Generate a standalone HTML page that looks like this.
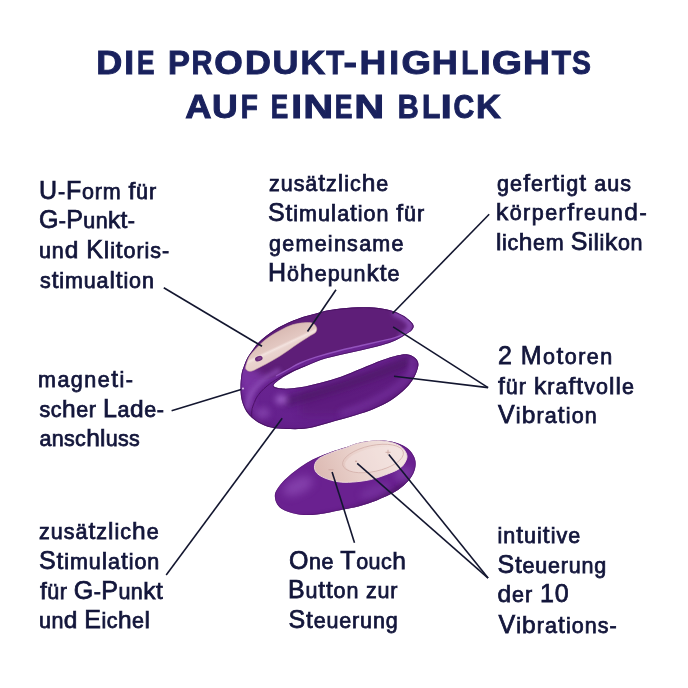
<!DOCTYPE html>
<html><head><meta charset="utf-8"><style>
html,body{margin:0;padding:0;background:#fff;width:688px;height:688px;overflow:hidden}
svg{display:block}
.b,.t{opacity:0.995}
.b text{font-family:"Liberation Sans",sans-serif;font-size:21.5px;fill:#12153a;stroke:#12153a;stroke-width:0.75px}
.t text{font-family:"Liberation Sans",sans-serif;font-weight:bold;font-size:34px;fill:#18205c;stroke:#18205c;stroke-width:1.0px}
</style></head><body>
<svg width="688" height="688" viewBox="0 0 688 688">
<rect width="688" height="688" fill="#fff"/>
<g class="t">
<text transform="translate(96.19,74.2) scale(1.060,1)">D</text>
<text transform="translate(124.13,74.2) scale(1.041,1)">I</text>
<text transform="translate(136.95,74.2) scale(0.771,1)">E</text>
<text transform="translate(168.10,74.2) scale(0.967,1)">P</text>
<text transform="translate(191.45,74.2) scale(0.857,1)">R</text>
<text transform="translate(214.19,74.2) scale(1.079,1)">O</text>
<text transform="translate(245.10,74.2) scale(1.055,1)">D</text>
<text transform="translate(272.44,74.2) scale(1.057,1)">U</text>
<text transform="translate(300.41,74.2) scale(1.006,1)">K</text>
<text transform="translate(326.37,74.2) scale(0.864,1)">T</text>
<text transform="translate(343.42,74.2) scale(1.193,1)">-</text>
<text transform="translate(359.53,74.2) scale(1.086,1)">H</text>
<text transform="translate(389.33,74.2) scale(1.041,1)">I</text>
<text transform="translate(401.54,74.2) scale(1.116,1)">G</text>
<text transform="translate(431.69,74.2) scale(1.061,1)">H</text>
<text transform="translate(461.24,74.2) scale(0.820,1)">L</text>
<text transform="translate(479.90,74.2) scale(1.143,1)">I</text>
<text transform="translate(492.02,74.2) scale(1.133,1)">G</text>
<text transform="translate(522.91,74.2) scale(1.096,1)">H</text>
<text transform="translate(551.75,74.2) scale(0.929,1)">T</text>
<text transform="translate(571.98,74.2) scale(0.835,1)">S</text>
<text transform="translate(185.19,117.6) scale(1.070,1)">A</text>
<text transform="translate(211.96,117.6) scale(1.047,1)">U</text>
<text transform="translate(240.73,117.6) scale(0.823,1)">F</text>
<text transform="translate(270.85,117.6) scale(0.771,1)">E</text>
<text transform="translate(291.30,117.6) scale(1.143,1)">I</text>
<text transform="translate(303.32,117.6) scale(1.221,1)">N</text>
<text transform="translate(334.82,117.6) scale(0.781,1)">E</text>
<text transform="translate(354.32,117.6) scale(1.221,1)">N</text>
<text transform="translate(397.86,117.6) scale(0.854,1)">B</text>
<text transform="translate(421.99,117.6) scale(0.883,1)">L</text>
<text transform="translate(440.65,117.6) scale(1.164,1)">I</text>
<text transform="translate(453.52,117.6) scale(0.846,1)">C</text>
<text transform="translate(476.00,117.6) scale(1.011,1)">K</text>
</g>
<defs>
<clipPath id="cb"><path d="M240.5,389.0 C240.4,384.4 240.9,378.3 241.5,374.5 C242.1,370.7 243.0,368.8 244.0,366.0 C245.0,363.2 246.0,360.5 247.3,358.0 C248.6,355.5 250.2,353.5 252.0,351.0 C253.8,348.5 255.7,345.5 258.0,343.0 C260.3,340.5 263.0,338.3 266.0,336.0 C269.0,333.7 272.3,331.2 276.0,329.0 C279.7,326.8 284.0,324.6 288.0,322.8 C292.0,321.0 295.5,319.5 300.0,318.0 C304.5,316.5 310.0,315.1 315.0,313.8 C320.0,312.5 323.8,311.0 330.0,310.0 C336.2,309.0 344.7,308.0 352.0,307.6 C359.3,307.2 367.5,307.1 374.0,307.6 C380.5,308.1 386.2,309.2 391.0,310.5 C395.8,311.8 399.6,313.7 403.0,315.6 C406.4,317.6 409.6,320.4 411.4,322.2 C413.2,324.0 413.6,325.1 413.6,326.5 C413.6,327.9 412.7,329.2 411.4,330.5 C410.1,331.8 408.3,332.8 405.6,334.5 C402.9,336.2 399.4,338.7 395.4,340.5 C391.4,342.3 387.4,343.6 381.7,345.2 C376.0,346.8 368.2,348.6 361.4,350.2 C354.6,351.8 347.8,353.1 341.0,354.7 C334.2,356.3 326.8,357.9 320.7,359.9 C314.6,361.9 308.9,364.8 304.3,366.7 C299.8,368.6 297.0,369.6 293.4,371.4 C289.8,373.2 285.8,375.2 282.5,377.6 C279.2,380.0 273.4,383.8 273.5,385.6 C273.6,387.4 278.5,388.3 283.0,388.6 C287.5,388.9 294.0,388.3 300.3,387.3 C306.6,386.3 313.9,384.6 320.7,382.8 C327.5,381.1 334.2,379.2 341.0,376.8 C347.8,374.4 354.6,371.2 361.4,368.5 C368.2,365.8 375.6,362.5 381.7,360.3 C387.8,358.1 393.6,356.3 398.0,355.3 C402.4,354.3 405.0,353.9 408.0,354.4 C411.0,354.9 414.1,356.7 415.8,358.5 C417.5,360.3 418.6,362.2 418.4,365.3 C418.1,368.4 416.4,373.1 414.3,377.0 C412.2,380.9 409.5,384.7 405.6,388.6 C401.7,392.5 396.3,396.8 391.0,400.2 C385.7,403.6 379.4,406.5 373.6,409.0 C367.8,411.5 362.6,413.0 356.2,415.0 C349.8,417.0 343.1,418.8 335.0,421.0 C326.9,423.2 315.9,427.0 307.7,428.3 C299.5,429.6 292.0,429.1 285.9,429.0 C279.8,428.9 275.9,428.7 271.3,427.6 C266.7,426.5 262.2,424.8 258.3,422.5 C254.4,420.2 250.8,417.2 248.1,413.8 C245.4,410.4 243.6,406.3 242.3,402.2 C241.0,398.1 240.6,393.6 240.5,389.0Z"/></clipPath>
<clipPath id="cr"><path d="M274.9,497.1 C274.7,494.9 274.9,493.4 276.1,491.0 C277.3,488.6 279.1,485.7 282.2,482.4 C285.2,479.1 290.3,474.6 294.4,471.4 C298.5,468.1 302.5,465.3 306.6,462.9 C310.7,460.5 314.8,458.6 318.9,456.8 C323.0,455.0 326.6,453.4 331.0,451.9 C335.4,450.4 340.4,449.1 345.0,447.6 C349.6,446.1 353.0,444.2 358.3,443.0 C363.6,441.8 370.9,440.8 376.6,440.6 C382.3,440.4 387.6,440.7 392.5,441.8 C397.4,442.9 402.5,445.1 406.0,447.3 C409.5,449.5 411.7,452.4 413.3,455.2 C414.9,457.9 415.7,460.8 415.7,463.8 C415.7,466.9 414.9,470.2 413.3,473.5 C411.7,476.8 409.1,480.2 406.0,483.3 C402.9,486.4 399.9,489.0 395.0,491.8 C390.1,494.6 382.7,497.9 376.6,500.4 C370.5,502.8 364.4,504.9 358.3,506.5 C352.2,508.1 346.6,508.9 340.0,510.2 C333.4,511.5 325.5,513.4 318.9,514.2 C312.3,515.0 306.2,515.4 300.5,514.8 C294.8,514.2 288.6,512.2 284.7,510.5 C280.8,508.8 278.9,506.6 277.3,504.4 C275.7,502.2 275.1,499.3 274.9,497.1Z"/></clipPath>
<clipPath id="cp"><path d="M245.8,369.0 C245.1,367.6 246.2,364.8 246.9,362.6 C247.6,360.4 248.4,358.0 250.0,355.6 C251.6,353.2 253.7,350.9 256.5,348.0 C259.3,345.1 263.1,341.4 267.0,338.5 C270.9,335.6 275.6,332.8 280.0,330.5 C284.4,328.2 288.7,325.9 293.1,324.6 C297.5,323.3 302.9,322.8 306.2,322.6 C309.5,322.4 311.4,322.5 313.1,323.4 C314.8,324.3 316.2,326.3 316.6,327.8 C317.0,329.3 316.7,330.9 315.7,332.2 C314.7,333.5 313.6,333.6 310.5,335.6 C307.4,337.6 302.5,340.6 297.4,344.0 C292.3,347.4 285.9,352.3 280.0,356.0 C274.1,359.7 267.0,363.5 262.2,366.0 C257.4,368.5 253.7,370.7 251.0,371.2 C248.3,371.7 246.5,370.4 245.8,369.0Z"/></clipPath>
<filter id="bl2" x="-50%" y="-50%" width="200%" height="200%"><feGaussianBlur stdDeviation="2"/></filter>
<filter id="bl3" x="-50%" y="-50%" width="200%" height="200%"><feGaussianBlur stdDeviation="3"/></filter>
<filter id="bl4" x="-50%" y="-50%" width="200%" height="200%"><feGaussianBlur stdDeviation="4"/></filter>
<filter id="bl1" x="-50%" y="-50%" width="200%" height="200%"><feGaussianBlur stdDeviation="0.7"/></filter>
<linearGradient id="gpad" gradientUnits="userSpaceOnUse" x1="280.4" y1="332.1" x2="288.9" y2="350.2">
<stop offset="0" stop-color="#dbbdb6"/><stop offset="0.55" stop-color="#e3c8c2"/><stop offset="0.66" stop-color="#f3e3df"/><stop offset="0.78" stop-color="#ead4cf"/><stop offset="1" stop-color="#e8d0cb"/></linearGradient>
<linearGradient id="grt" gradientUnits="userSpaceOnUse" x1="318" y1="478" x2="398" y2="446">
<stop offset="0" stop-color="#dcbab3"/><stop offset="0.5" stop-color="#ead2cc"/><stop offset="1" stop-color="#f3e3df"/></linearGradient>
<linearGradient id="gbody" gradientUnits="userSpaceOnUse" x1="0" y1="340" x2="0" y2="430">
<stop offset="0" stop-color="#6c2694"/><stop offset="1" stop-color="#64208c"/></linearGradient>
</defs>
<g id="device">
<path d="M240.5,389.0 C240.4,384.4 240.9,378.3 241.5,374.5 C242.1,370.7 243.0,368.8 244.0,366.0 C245.0,363.2 246.0,360.5 247.3,358.0 C248.6,355.5 250.2,353.5 252.0,351.0 C253.8,348.5 255.7,345.5 258.0,343.0 C260.3,340.5 263.0,338.3 266.0,336.0 C269.0,333.7 272.3,331.2 276.0,329.0 C279.7,326.8 284.0,324.6 288.0,322.8 C292.0,321.0 295.5,319.5 300.0,318.0 C304.5,316.5 310.0,315.1 315.0,313.8 C320.0,312.5 323.8,311.0 330.0,310.0 C336.2,309.0 344.7,308.0 352.0,307.6 C359.3,307.2 367.5,307.1 374.0,307.6 C380.5,308.1 386.2,309.2 391.0,310.5 C395.8,311.8 399.6,313.7 403.0,315.6 C406.4,317.6 409.6,320.4 411.4,322.2 C413.2,324.0 413.6,325.1 413.6,326.5 C413.6,327.9 412.7,329.2 411.4,330.5 C410.1,331.8 408.3,332.8 405.6,334.5 C402.9,336.2 399.4,338.7 395.4,340.5 C391.4,342.3 387.4,343.6 381.7,345.2 C376.0,346.8 368.2,348.6 361.4,350.2 C354.6,351.8 347.8,353.1 341.0,354.7 C334.2,356.3 326.8,357.9 320.7,359.9 C314.6,361.9 308.9,364.8 304.3,366.7 C299.8,368.6 297.0,369.6 293.4,371.4 C289.8,373.2 285.8,375.2 282.5,377.6 C279.2,380.0 273.4,383.8 273.5,385.6 C273.6,387.4 278.5,388.3 283.0,388.6 C287.5,388.9 294.0,388.3 300.3,387.3 C306.6,386.3 313.9,384.6 320.7,382.8 C327.5,381.1 334.2,379.2 341.0,376.8 C347.8,374.4 354.6,371.2 361.4,368.5 C368.2,365.8 375.6,362.5 381.7,360.3 C387.8,358.1 393.6,356.3 398.0,355.3 C402.4,354.3 405.0,353.9 408.0,354.4 C411.0,354.9 414.1,356.7 415.8,358.5 C417.5,360.3 418.6,362.2 418.4,365.3 C418.1,368.4 416.4,373.1 414.3,377.0 C412.2,380.9 409.5,384.7 405.6,388.6 C401.7,392.5 396.3,396.8 391.0,400.2 C385.7,403.6 379.4,406.5 373.6,409.0 C367.8,411.5 362.6,413.0 356.2,415.0 C349.8,417.0 343.1,418.8 335.0,421.0 C326.9,423.2 315.9,427.0 307.7,428.3 C299.5,429.6 292.0,429.1 285.9,429.0 C279.8,428.9 275.9,428.7 271.3,427.6 C266.7,426.5 262.2,424.8 258.3,422.5 C254.4,420.2 250.8,417.2 248.1,413.8 C245.4,410.4 243.6,406.3 242.3,402.2 C241.0,398.1 240.6,393.6 240.5,389.0Z" fill="url(#gbody)"/>
<g clip-path="url(#cb)">
<path d="M244.0,366.0 C243.9,363.0 246.0,360.5 247.3,358.0 C248.6,355.5 250.2,353.5 252.0,351.0 C253.8,348.5 255.7,345.5 258.0,343.0 C260.3,340.5 263.0,338.3 266.0,336.0 C269.0,333.7 272.3,331.2 276.0,329.0 C279.7,326.8 284.0,324.6 288.0,322.8 C292.0,321.0 295.5,319.5 300.0,318.0 C304.5,316.5 310.0,315.1 315.0,313.8 C320.0,312.5 323.8,311.0 330.0,310.0 C336.2,309.0 344.7,308.0 352.0,307.6 C359.3,307.2 367.5,307.1 374.0,307.6 C380.5,308.1 386.2,309.2 391.0,310.5 C395.8,311.8 399.6,313.7 403.0,315.6 C406.4,317.6 409.6,320.4 411.4,322.2 C413.2,324.0 413.6,325.1 413.6,326.5 C413.6,327.9 412.5,329.5 411.4,330.5 C410.3,331.5 409.7,331.3 407.0,332.5 C404.3,333.7 399.2,336.2 395.0,337.6 C390.8,339.0 387.3,339.6 381.7,340.9 C376.1,342.2 368.2,343.9 361.4,345.5 C354.6,347.1 348.6,348.4 341.0,350.3 C333.4,352.2 322.8,355.1 316.0,357.2 C309.2,359.3 305.0,360.9 300.3,363.0 C295.6,365.1 292.1,367.3 288.0,369.5 C283.9,371.7 280.3,374.2 276.0,376.0 C271.7,377.8 266.7,380.0 262.0,380.0 C257.3,380.0 251.0,378.3 248.0,376.0 C245.0,373.7 244.1,369.0 244.0,366.0Z" fill="#5e1e78"/>
<path d="M236,352 C238,380 246,405 262,424 C254,408 251,398 255,390 C258,384 262,380 267,377 L252,368 Z" fill="#7b36a4" filter="url(#bl3)" opacity="0.9"/>
<path d="M238,400 C250,425 275,432 300,432 C340,430 380,415 425,375 L432,440 L230,445Z" fill="#4f1565" filter="url(#bl4)" opacity="0.55"/>
<path d="M300,392 C330,385 370,372 400,356 L420,358 L420,400 C380,410 330,420 300,415Z" fill="#56186e" filter="url(#bl4)" opacity="0.45"/>
<path d="M285,402 C300,398 330,390 359,380 C380,373 395,367 410,361" fill="none" stroke="#4a1262" stroke-width="10" filter="url(#bl3)" opacity="0.6"/>
<ellipse cx="281.5" cy="399.5" rx="6" ry="4.5" fill="#a566cc" filter="url(#bl3)" opacity="0.9"/>
<ellipse cx="263" cy="413" rx="7" ry="6" fill="#8a48b2" filter="url(#bl3)" opacity="0.7"/>
<ellipse cx="412" cy="366" rx="4" ry="9" fill="#7e3ba8" filter="url(#bl2)" opacity="0.5"/>
<path d="M340,414 C360,408 380,399 396,388 C404,382 409,376 412,370" fill="none" stroke="#7b38a6" stroke-width="6" filter="url(#bl3)" opacity="0.7"/>
<path d="M393,313 C401,315.5 408,320 410.5,325 C411,329 406,333 400,336.5" fill="none" stroke="#8a4ab4" stroke-width="5" filter="url(#bl2)" opacity="1"/>
<path d="M247.0,410.0 C247.3,408.0 247.7,401.7 249.0,398.0 C250.3,394.3 252.2,391.3 255.0,388.0 C257.8,384.7 261.8,381.0 266.0,378.0 C270.2,375.0 277.7,371.3 280.0,370.0" fill="none" stroke="#8f50b8" stroke-width="5" filter="url(#bl2)" opacity="0.8"/>
<path d="M276.0,376.0 C278.0,374.9 283.9,371.7 288.0,369.5 C292.1,367.3 295.6,365.1 300.3,363.0 C305.0,360.9 309.2,359.3 316.0,357.2 C322.8,355.1 333.4,352.2 341.0,350.3 C348.6,348.4 354.6,347.1 361.4,345.5 C368.2,343.9 376.1,342.2 381.7,340.9 C387.3,339.6 390.8,338.9 395.0,337.6 C399.2,336.3 404.2,334.3 407.0,333.0 C409.8,331.7 410.8,330.5 411.5,330.0" fill="none" stroke="#9352bd" stroke-width="1.4" filter="url(#bl1)"/>
<path d="M252.0,420.0 C251.9,418.7 251.5,414.5 251.7,412.0 C251.9,409.5 252.2,407.8 253.4,404.9 C254.6,402.0 255.8,398.0 258.7,394.4 C261.6,390.8 265.7,386.7 270.9,383.0 C276.1,379.3 284.3,375.0 290.0,372.2 C295.7,369.4 302.5,367.0 305.0,366.0" fill="none" stroke="#4a1164" stroke-width="1" filter="url(#bl1)" opacity="0.9"/>
<path d="M240.5,389.0 C240.4,384.4 240.9,378.3 241.5,374.5 C242.1,370.7 243.0,368.8 244.0,366.0 C245.0,363.2 246.0,360.5 247.3,358.0 C248.6,355.5 250.2,353.5 252.0,351.0 C253.8,348.5 255.7,345.5 258.0,343.0 C260.3,340.5 263.0,338.3 266.0,336.0 C269.0,333.7 272.3,331.2 276.0,329.0 C279.7,326.8 284.0,324.6 288.0,322.8 C292.0,321.0 295.5,319.5 300.0,318.0 C304.5,316.5 310.0,315.1 315.0,313.8 C320.0,312.5 323.8,311.0 330.0,310.0 C336.2,309.0 344.7,308.0 352.0,307.6 C359.3,307.2 367.5,307.1 374.0,307.6 C380.5,308.1 386.2,309.2 391.0,310.5 C395.8,311.8 399.6,313.7 403.0,315.6 C406.4,317.6 409.6,320.4 411.4,322.2 C413.2,324.0 413.6,325.1 413.6,326.5 C413.6,327.9 412.7,329.2 411.4,330.5 C410.1,331.8 408.3,332.8 405.6,334.5 C402.9,336.2 399.4,338.7 395.4,340.5 C391.4,342.3 387.4,343.6 381.7,345.2 C376.0,346.8 368.2,348.6 361.4,350.2 C354.6,351.8 347.8,353.1 341.0,354.7 C334.2,356.3 326.8,357.9 320.7,359.9 C314.6,361.9 308.9,364.8 304.3,366.7 C299.8,368.6 297.0,369.6 293.4,371.4 C289.8,373.2 285.8,375.2 282.5,377.6 C279.2,380.0 273.4,383.8 273.5,385.6 C273.6,387.4 278.5,388.3 283.0,388.6 C287.5,388.9 294.0,388.3 300.3,387.3 C306.6,386.3 313.9,384.6 320.7,382.8 C327.5,381.1 334.2,379.2 341.0,376.8 C347.8,374.4 354.6,371.2 361.4,368.5 C368.2,365.8 375.6,362.5 381.7,360.3 C387.8,358.1 393.6,356.3 398.0,355.3 C402.4,354.3 405.0,353.9 408.0,354.4 C411.0,354.9 414.1,356.7 415.8,358.5 C417.5,360.3 418.6,362.2 418.4,365.3 C418.1,368.4 416.4,373.1 414.3,377.0 C412.2,380.9 409.5,384.7 405.6,388.6 C401.7,392.5 396.3,396.8 391.0,400.2 C385.7,403.6 379.4,406.5 373.6,409.0 C367.8,411.5 362.6,413.0 356.2,415.0 C349.8,417.0 343.1,418.8 335.0,421.0 C326.9,423.2 315.9,427.0 307.7,428.3 C299.5,429.6 292.0,429.1 285.9,429.0 C279.8,428.9 275.9,428.7 271.3,427.6 C266.7,426.5 262.2,424.8 258.3,422.5 C254.4,420.2 250.8,417.2 248.1,413.8 C245.4,410.4 243.6,406.3 242.3,402.2 C241.0,398.1 240.6,393.6 240.5,389.0Z" fill="none" stroke="#420f5a" stroke-width="1.6" opacity="0.8"/>
</g>
<path d="M245.8,369.0 C245.1,367.6 246.2,364.8 246.9,362.6 C247.6,360.4 248.4,358.0 250.0,355.6 C251.6,353.2 253.7,350.9 256.5,348.0 C259.3,345.1 263.1,341.4 267.0,338.5 C270.9,335.6 275.6,332.8 280.0,330.5 C284.4,328.2 288.7,325.9 293.1,324.6 C297.5,323.3 302.9,322.8 306.2,322.6 C309.5,322.4 311.4,322.5 313.1,323.4 C314.8,324.3 316.2,326.3 316.6,327.8 C317.0,329.3 316.7,330.9 315.7,332.2 C314.7,333.5 313.6,333.6 310.5,335.6 C307.4,337.6 302.5,340.6 297.4,344.0 C292.3,347.4 285.9,352.3 280.0,356.0 C274.1,359.7 267.0,363.5 262.2,366.0 C257.4,368.5 253.7,370.7 251.0,371.2 C248.3,371.7 246.5,370.4 245.8,369.0Z" fill="url(#gpad)" stroke="#caa8a4" stroke-width="0.6"/>
<ellipse cx="258.8" cy="358.6" rx="3.9" ry="2.6" transform="rotate(-20 258.8 358.6)" fill="#6b2a7a"/>
<ellipse cx="259.3" cy="358.3" rx="2" ry="1.2" transform="rotate(-20 259.3 358.3)" fill="#8a4a96" opacity="0.7"/>
<circle cx="243" cy="388.5" r="0.9" fill="#e6d2ee"/>
<path d="M274.9,497.1 C274.7,494.9 274.9,493.4 276.1,491.0 C277.3,488.6 279.1,485.7 282.2,482.4 C285.2,479.1 290.3,474.6 294.4,471.4 C298.5,468.1 302.5,465.3 306.6,462.9 C310.7,460.5 314.8,458.6 318.9,456.8 C323.0,455.0 326.6,453.4 331.0,451.9 C335.4,450.4 340.4,449.1 345.0,447.6 C349.6,446.1 353.0,444.2 358.3,443.0 C363.6,441.8 370.9,440.8 376.6,440.6 C382.3,440.4 387.6,440.7 392.5,441.8 C397.4,442.9 402.5,445.1 406.0,447.3 C409.5,449.5 411.7,452.4 413.3,455.2 C414.9,457.9 415.7,460.8 415.7,463.8 C415.7,466.9 414.9,470.2 413.3,473.5 C411.7,476.8 409.1,480.2 406.0,483.3 C402.9,486.4 399.9,489.0 395.0,491.8 C390.1,494.6 382.7,497.9 376.6,500.4 C370.5,502.8 364.4,504.9 358.3,506.5 C352.2,508.1 346.6,508.9 340.0,510.2 C333.4,511.5 325.5,513.4 318.9,514.2 C312.3,515.0 306.2,515.4 300.5,514.8 C294.8,514.2 288.6,512.2 284.7,510.5 C280.8,508.8 278.9,506.6 277.3,504.4 C275.7,502.2 275.1,499.3 274.9,497.1Z" fill="#6a2190"/>
<g clip-path="url(#cr)">
<path d="M270,515 C320,522 380,505 420,468 L430,530 L260,530Z" fill="#4e1566" filter="url(#bl2)" opacity="0.7"/>
<ellipse cx="298" cy="486" rx="16" ry="8" fill="#8c4ab4" filter="url(#bl4)" opacity="0.75" transform="rotate(-25 298 486)"/>
<ellipse cx="404" cy="474" rx="10" ry="8" fill="#7e3ca6" filter="url(#bl3)" opacity="0.7"/>
<ellipse cx="375" cy="491" rx="16" ry="6" transform="rotate(-20 375 491)" fill="#7a38a3" filter="url(#bl3)" opacity="0.6"/>
<path d="M274.9,497.1 C274.7,494.9 274.9,493.4 276.1,491.0 C277.3,488.6 279.1,485.7 282.2,482.4 C285.2,479.1 290.3,474.6 294.4,471.4 C298.5,468.1 302.5,465.3 306.6,462.9 C310.7,460.5 314.8,458.6 318.9,456.8 C323.0,455.0 326.6,453.4 331.0,451.9 C335.4,450.4 340.4,449.1 345.0,447.6 C349.6,446.1 353.0,444.2 358.3,443.0 C363.6,441.8 370.9,440.8 376.6,440.6 C382.3,440.4 387.6,440.7 392.5,441.8 C397.4,442.9 402.5,445.1 406.0,447.3 C409.5,449.5 411.7,452.4 413.3,455.2 C414.9,457.9 415.7,460.8 415.7,463.8 C415.7,466.9 414.9,470.2 413.3,473.5 C411.7,476.8 409.1,480.2 406.0,483.3 C402.9,486.4 399.9,489.0 395.0,491.8 C390.1,494.6 382.7,497.9 376.6,500.4 C370.5,502.8 364.4,504.9 358.3,506.5 C352.2,508.1 346.6,508.9 340.0,510.2 C333.4,511.5 325.5,513.4 318.9,514.2 C312.3,515.0 306.2,515.4 300.5,514.8 C294.8,514.2 288.6,512.2 284.7,510.5 C280.8,508.8 278.9,506.6 277.3,504.4 C275.7,502.2 275.1,499.3 274.9,497.1Z" fill="none" stroke="#4e1468" stroke-width="1.2" opacity="0.7"/>
</g>
<path d="M314.6,465.3 C314.1,467.7 314.7,470.5 316.4,472.6 C318.1,474.7 321.3,476.6 325.0,478.1 C328.7,479.6 333.9,481.1 338.4,481.8 C342.9,482.5 346.8,482.5 352.2,482.1 C357.6,481.7 364.4,481.0 370.5,479.6 C376.6,478.2 383.8,475.5 388.9,473.5 C394.0,471.5 398.1,469.8 401.0,467.4 C403.9,465.0 405.8,461.3 406.6,458.9 C407.4,456.5 406.9,454.8 406.0,452.8 C405.1,450.8 403.4,448.4 401.0,446.7 C398.6,445.0 395.4,443.4 391.3,442.4 C387.2,441.4 382.1,440.6 376.6,440.8 C371.1,441.0 363.6,442.2 358.3,443.4 C353.0,444.6 349.1,446.8 345.0,448.2 C340.9,449.6 337.8,450.2 333.5,451.9 C329.2,453.6 322.6,456.0 319.5,458.2 C316.4,460.4 315.1,462.9 314.6,465.3Z" fill="url(#grt)" stroke="#f1e0dd" stroke-width="0.9"/>
<ellipse cx="373" cy="458.5" rx="31" ry="13" transform="rotate(-12 373 458.5)" fill="none" stroke="#d4b1ab" stroke-width="0.8"/>
<ellipse cx="373.5" cy="459.5" rx="29" ry="11.5" transform="rotate(-12 373.5 459.5)" fill="#f4e5e2" opacity="0.45"/>
<path d="M328.5,469.8 h5 M385.5,452.3 h5 M388,449.8 v5" stroke="#c9a39d" stroke-width="0.8"/>
<circle cx="356" cy="461.3" r="0.9" fill="#c9a39d"/>
</g>
<g id="lines" stroke="#13162f" stroke-width="1.6" fill="none" stroke-linecap="butt">
<line x1="163.8" y1="287.7" x2="262" y2="346.3"/>
<line x1="336" y1="289.8" x2="307.5" y2="331.5"/>
<line x1="489.2" y1="214.2" x2="392.5" y2="313.5"/>
<line x1="393.1" y1="326.9" x2="488.1" y2="387.6"/>
<line x1="394" y1="376.3" x2="488.1" y2="387.6"/>
<line x1="171.6" y1="410.8" x2="241.1" y2="389.6"/>
<line x1="166.2" y1="574.9" x2="282.2" y2="418.3"/>
<line x1="332.1" y1="472" x2="354.5" y2="542.7"/>
<line x1="357.2" y1="463.3" x2="488.1" y2="578.1"/>
<line x1="388.8" y1="454.6" x2="488.1" y2="578.1"/>
</g>
 
<g class="b">
<text transform="translate(39.00,198.80) scale(1.0000,1)" letter-spacing="0.843"><tspan font-size="25">U</tspan>-<tspan font-size="25">F</tspan>orm <tspan font-size="24.5">f</tspan>ür</text>
<text transform="translate(39.00,228.30) scale(1.0000,1)" letter-spacing="0.354"><tspan font-size="25">G</tspan>-<tspan font-size="25">P</tspan>un<tspan font-size="24.5">k</tspan><tspan font-size="24.5">t</tspan>-</text>
<text transform="translate(39.00,257.70) scale(1.0000,1)" letter-spacing="0.915">un<tspan font-size="24.5">d</tspan> <tspan font-size="25">K</tspan><tspan font-size="24.5">l</tspan>i<tspan font-size="24.5">t</tspan>oris-</text>
<text transform="translate(40.00,288.00) scale(1.0000,1)" letter-spacing="0.873">s<tspan font-size="24.5">t</tspan>imua<tspan font-size="24.5">l</tspan><tspan font-size="24.5">t</tspan>ion</text>
<text transform="translate(269.00,190.90) scale(1.0000,1)" letter-spacing="0.964">zusä<tspan font-size="24.5">t</tspan>z<tspan font-size="24.5">l</tspan>ic<tspan font-size="24.5">h</tspan>e</text>
<text transform="translate(268.00,220.50) scale(1.0000,1)" letter-spacing="0.934"><tspan font-size="25">S</tspan><tspan font-size="24.5">t</tspan>imu<tspan font-size="24.5">l</tspan>a<tspan font-size="24.5">t</tspan>ion <tspan font-size="24.5">f</tspan>ür</text>
<text transform="translate(269.00,250.50) scale(1.0000,1)" letter-spacing="1.268">gemeinsame</text>
<text transform="translate(268.00,280.60) scale(1.0000,1)" letter-spacing="1.005"><tspan font-size="25">H</tspan>ö<tspan font-size="24.5">h</tspan>epun<tspan font-size="24.5">k</tspan><tspan font-size="24.5">t</tspan>e</text>
<text transform="translate(497.00,191.00) scale(1.0000,1)" letter-spacing="1.098">ge<tspan font-size="24.5">f</tspan>er<tspan font-size="24.5">t</tspan>ig<tspan font-size="24.5">t</tspan> aus</text>
<text transform="translate(496.00,220.40) scale(1.0000,1)" letter-spacing="1.453"><tspan font-size="24.5">k</tspan>örper<tspan font-size="24.5">f</tspan>reun<tspan font-size="24.5">d</tspan>-</text>
<text transform="translate(496.00,250.00) scale(1.0000,1)" letter-spacing="0.620"><tspan font-size="24.5">l</tspan>ic<tspan font-size="24.5">h</tspan>em <tspan font-size="25">S</tspan>i<tspan font-size="24.5">l</tspan>i<tspan font-size="24.5">k</tspan>on</text>
<text transform="translate(38.00,387.10) scale(1.0000,1)" letter-spacing="1.479">magne<tspan font-size="24.5">t</tspan>i-</text>
<text transform="translate(39.50,416.70) scale(1.0000,1)" letter-spacing="0.546">sc<tspan font-size="24.5">h</tspan>er <tspan font-size="25">L</tspan>a<tspan font-size="24.5">d</tspan>e-</text>
<text transform="translate(39.50,446.20) scale(1.0000,1)" letter-spacing="0.299">ansc<tspan font-size="24.5">h</tspan><tspan font-size="24.5">l</tspan>uss</text>
<text transform="translate(498.00,363.90) scale(1.0000,1)" letter-spacing="1.462"><tspan font-size="25">2</tspan> <tspan font-size="25">M</tspan>o<tspan font-size="24.5">t</tspan>oren</text>
<text transform="translate(498.00,393.50) scale(1.0000,1)" letter-spacing="1.031"><tspan font-size="24.5">f</tspan>ür <tspan font-size="24.5">k</tspan>ra<tspan font-size="24.5">f</tspan><tspan font-size="24.5">t</tspan>vo<tspan font-size="24.5">l</tspan><tspan font-size="24.5">l</tspan>e</text>
<text transform="translate(498.00,423.20) scale(1.0000,1)" letter-spacing="1.129"><tspan font-size="25">V</tspan>i<tspan font-size="24.5">b</tspan>ra<tspan font-size="24.5">t</tspan>ion</text>
<text transform="translate(39.00,538.80) scale(1.0000,1)" letter-spacing="1.014">zusä<tspan font-size="24.5">t</tspan>z<tspan font-size="24.5">l</tspan>ic<tspan font-size="24.5">h</tspan>e</text>
<text transform="translate(39.00,569.40) scale(1.0000,1)" letter-spacing="0.914"><tspan font-size="25">S</tspan><tspan font-size="24.5">t</tspan>imu<tspan font-size="24.5">l</tspan>a<tspan font-size="24.5">t</tspan>ion</text>
<text transform="translate(40.00,598.80) scale(1.0000,1)" letter-spacing="0.457"><tspan font-size="24.5">f</tspan>ür <tspan font-size="25">G</tspan>-<tspan font-size="25">P</tspan>un<tspan font-size="24.5">k</tspan><tspan font-size="24.5">t</tspan></text>
<text transform="translate(39.00,628.20) scale(1.0000,1)" letter-spacing="0.455">un<tspan font-size="24.5">d</tspan> <tspan font-size="25">E</tspan>ic<tspan font-size="24.5">h</tspan>e<tspan font-size="24.5">l</tspan></text>
<text transform="translate(289.00,568.50) scale(1.0000,1)" letter-spacing="0.502"><tspan font-size="25">O</tspan>ne <tspan font-size="25">T</tspan>ouc<tspan font-size="24.5">h</tspan></text>
<text transform="translate(288.00,598.20) scale(1.0000,1)" letter-spacing="0.833"><tspan font-size="25">B</tspan>u<tspan font-size="24.5">t</tspan><tspan font-size="24.5">t</tspan>on zur</text>
<text transform="translate(288.50,627.50) scale(1.0000,1)" letter-spacing="0.848"><tspan font-size="25">S</tspan><tspan font-size="24.5">t</tspan>euerung</text>
<text transform="translate(497.50,543.20) scale(1.0000,1)" letter-spacing="1.013">in<tspan font-size="24.5">t</tspan>ui<tspan font-size="24.5">t</tspan>ive</text>
<text transform="translate(497.50,572.60) scale(1.0000,1)" letter-spacing="0.785"><tspan font-size="25">S</tspan><tspan font-size="24.5">t</tspan>euerung</text>
<text transform="translate(497.50,602.10) scale(1.0000,1)" letter-spacing="0.908"><tspan font-size="24.5">d</tspan>er <tspan font-size="25">1</tspan><tspan font-size="25">0</tspan></text>
<text transform="translate(498.50,632.50) scale(1.0000,1)" letter-spacing="1.062"><tspan font-size="25">V</tspan>i<tspan font-size="24.5">b</tspan>ra<tspan font-size="24.5">t</tspan>ions-</text>
</g>
</svg>
</body></html>
